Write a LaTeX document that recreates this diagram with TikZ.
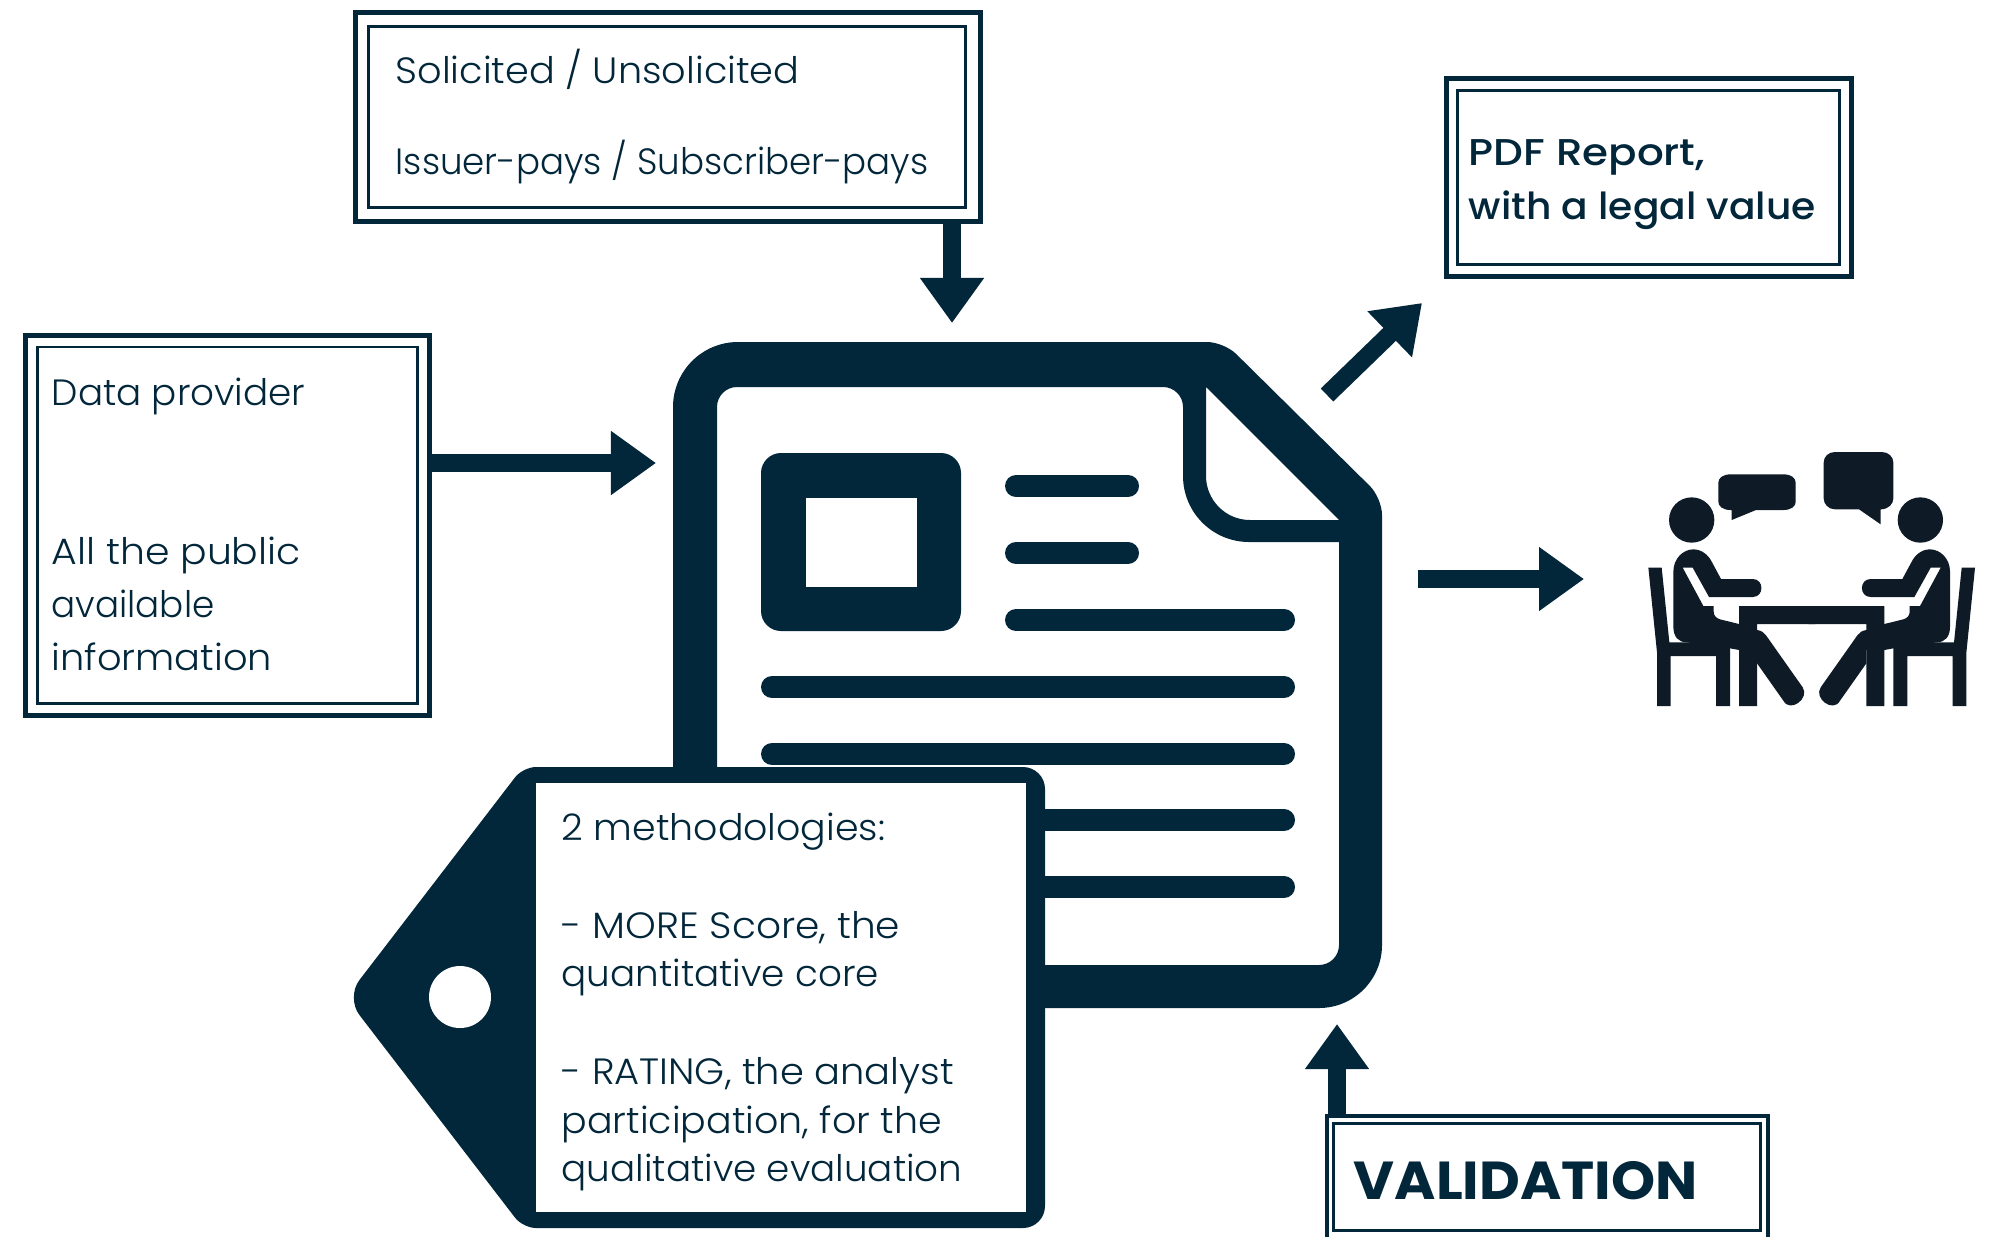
\documentclass[tikz,border=0pt]{standalone}
\usepackage{fontspec}
\usepackage{graphicx}
\usetikzlibrary{arrows.meta}
\setmainfont{Poppins Light}[BoldFont={Poppins Bold}]
\newfontfamily\medfont{Poppins Medium}
\definecolor{navy}{HTML}{02263A}
\definecolor{ink}{HTML}{0E1B26}
\newcommand{\sx}[2]{\scalebox{#1}[1]{#2}}
\tikzset{
  x=0.01cm,y=-0.01cm,
  outerbox/.style={draw=navy,line width=0.05cm,fill=white,inner sep=0pt,outer sep=0pt,anchor=north west},
  innerbox/.style={draw=navy,line width=0.028cm,inner sep=0pt,outer sep=0pt,anchor=north west},
  bodytext/.style={text=navy,inner sep=0pt,anchor=base west,font=\fontsize{10.4pt}{12pt}\selectfont},
  medtext/.style={text=navy,inner sep=0pt,anchor=base west,font=\medfont\fontsize{10.6pt}{12pt}\selectfont},
  boldtext/.style={text=navy,inner sep=0pt,anchor=base west,font=\bfseries\fontsize{15.2pt}{18pt}\selectfont},
  blockarrow/.style={draw=navy,line width=0.18cm,-{Triangle[length=0.45cm,width=0.61cm]}},
  docline/.style={draw=navy,line width=0.22cm,line cap=round},
}
\newcommand{\drawperson}{%
  % chair
  \fill[ink] (85,413) -- (125,413) -- (148,637) -- (330,637) -- (330,828) -- (288,828) -- (288,678) -- (152,678) -- (152,828) -- (111,828) -- (111,668) -- cycle;
  % torso and leg
  \fill[ink] (160,590) -- (160,425) .. controls (160,385) and (190,358) .. (220,358)
    .. controls (245,358) and (265,375) .. (275,395) -- (303,447) -- (398,447)
    .. controls (433,447) and (433,501) .. (398,501) -- (267,501) -- (218,413) -- (188,413)
    -- (250,528) -- (281,528) -- (281,545) .. controls (281,558) and (290,565) .. (300,568)
    -- (357,582) -- (411,600) .. controls (425,602) and (432,608) .. (438,616)
    -- (548,772) .. controls (570,805) and (510,850) .. (490,812) -- (411,700) -- (411,660) -- (357,660) -- (330,655) -- (200,637)
    .. controls (175,637) and (160,620) .. (160,590) -- cycle;
  % table half
  \fill[ink] (357,528) -- (585,528) -- (585,582) -- (411,582) -- (411,828) -- (357,828) -- cycle;
}
\begin{document}
\begin{tikzpicture}
\clip (0,0) rectangle (1995,1236);
\fill[white] (0,0) rectangle (1995,1236);

% document
\fill[navy,even odd rule]
  [rounded corners=0.65cm] (673,1000) -- (673,342)
  [rounded corners=0.17cm] -- (1224,342) -- (1382,498)
  [rounded corners=0.63cm] -- (1382,1008) -- (673,1008) -- cycle
  [rounded corners=0.2cm] (717,387) -- (1183,387)
  [rounded corners=0.66cm] -- (1183,542)
  [rounded corners=0pt] -- (1339,542)
  [rounded corners=0.2cm] -- (1339,965) -- (717,965) -- cycle
  [rounded corners=0pt] (1206,387)
  [rounded corners=0.44cm] -- (1206,520)
  [rounded corners=0pt] -- (1339,520) -- cycle;
% picture
\fill[navy,rounded corners=0.2cm] (761,453) rectangle (961,631);
\fill[white] (806,498) rectangle (917,587);
% text lines
\draw[docline] (1016,486) -- (1128,486);
\draw[docline] (1016,553) -- (1128,553);
\draw[docline] (1016,620) -- (1284,620);
\draw[docline] (772,687) -- (1284,687);
\draw[docline] (772,754) -- (1284,754);
\draw[docline] (772,820) -- (1284,820);
\draw[docline] (772,887) -- (1284,887);

% tag
\fill[navy]
  [rounded corners=0.13cm] (523,767)
  [rounded corners=0.22cm] -- (1045,767) -- (1045,1228)
  [rounded corners=0.13cm] -- (523,1228)
  [rounded corners=0.22cm] -- (346,997.5)
  [rounded corners=0.13cm] -- cycle;
\fill[white] (536,783) rectangle (1026,1212);
\fill[white] (460,997) ellipse [x radius=31,y radius=31];

% boxes
\node[outerbox,minimum width=6.25cm,minimum height=2.09cm] (topbox) at (355.5,12.5) {};
\node[innerbox,minimum width=5.97cm,minimum height=1.81cm] (topinner) at (368.5,26.5) {};
\node[outerbox,minimum width=4.035cm,minimum height=3.80cm] (databox) at (25.5,335.5) {};
\node[innerbox,minimum width=3.80cm,minimum height=3.565cm] (datainner) at (37.5,347) {};
\node[outerbox,minimum width=4.045cm,minimum height=1.98cm] (pdfbox) at (1446.5,78.5) {};
\node[innerbox,minimum width=3.82cm,minimum height=1.74cm] (pdfinner) at (1457.5,90.5) {};
\node[outerbox,line width=0.04cm,minimum width=4.41cm,minimum height=1.27cm] (valbox) at (1326.5,1115.5) {};
\node[innerbox,minimum width=4.27cm,minimum height=1.07cm] (valinner) at (1333.5,1123.5) {};

% texts
\node[bodytext] (t1) at (395,83) {\sx{1.046}{Solicited / Unsolicited}};
\node[bodytext] (t2) at (395,174) {\sx{0.974}{Issuer-pays / Subscriber-pays}};
\node[bodytext] (t3) at (51,405) {\sx{1.02}{Data provider}};
\node[bodytext] (t4) at (51,564) {\sx{1.077}{All the public}};
\node[bodytext] (t5) at (51,617) {\sx{0.977}{available}};
\node[bodytext] (t6) at (51,670) {\sx{1.049}{information}};
\node[medtext] (t7) at (1468,165) {\sx{1.127}{PDF Report,}};
\node[medtext] (t8) at (1468,219) {\sx{1.052}{with a legal value}};
\node[boldtext] (t9) at (1353,1199) {\sx{1.05}{VALIDATION}};
\node[bodytext] (t10) at (561,840) {\sx{1.037}{2 methodologies:}};
\node[bodytext] (t11) at (561,938) {\sx{1.069}{- MORE Score, the}};
\node[bodytext] (t12) at (561,986) {\sx{1.02}{quantitative core}};
\node[bodytext] (t13) at (561,1084) {\sx{1.051}{- RATING, the analyst}};
\node[bodytext] (t14) at (561,1133) {\sx{1.038}{participation, for the}};
\node[bodytext] (t15) at (561,1181) {\sx{1.02}{qualitative evaluation}};

% connectors
\coordinate (topend) at (952,323);
\coordinate (dataend) at (656,463);
\coordinate (pdfstart) at (1327,395);
\coordinate (pdfend) at (1422,303);
\coordinate (meetstart) at (1418,579);
\coordinate (meetend) at (1584,579);
\coordinate (valend) at (1337,1024);
\draw[blockarrow] (topend |- topbox.south) -- (topend);
\draw[blockarrow] (databox.east |- dataend) -- (dataend);
\draw[blockarrow] (pdfstart) -- (pdfend);
\draw[blockarrow] (meetstart) -- (meetend);
\draw[blockarrow] (valend |- valbox.north) -- (valend);

% meeting icon
\begin{scope}[shift={(1620,430)},scale=1/3]
  \drawperson
  \begin{scope}[shift={(1150,0)},xscale=-1]
    \drawperson
  \end{scope}
  \fill[ink] (215,270) ellipse [x radius=68,y radius=68];
  \fill[ink] (901,270) ellipse [x radius=68,y radius=68];
  \fill[ink] (335,240) -- (335,270) -- (408,240) -- (490,240) .. controls (515,240) and (527,228) .. (527,215)
     -- (527,158) .. controls (527,145) and (515,133) .. (490,133) -- (332,133)
     .. controls (307,133) and (295,145) .. (295,158) -- (295,215) .. controls (295,228) and (307,240) .. (332,240) -- cycle;
  \fill[ink] (717,238) -- (782,283) -- (782,238) .. controls (805,238) and (820,222) .. (820,205)
     -- (820,98) .. controls (820,80) and (805,66) .. (785,66) -- (645,66)
     .. controls (625,66) and (611,80) .. (611,98) -- (611,205) .. controls (611,222) and (625,238) .. (645,238) -- cycle;
\end{scope}
\end{tikzpicture}
\end{document}
